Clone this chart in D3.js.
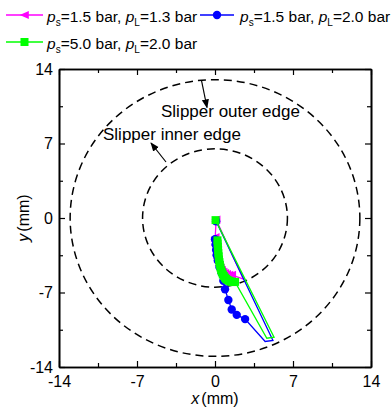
<!DOCTYPE html>
<html><head><meta charset="utf-8">
<script src="https://cdn.jsdelivr.net/npm/d3@7"></script>
<style>
body{margin:0;background:#fff;}
svg{display:block;font-family:Arial,"Liberation Sans",sans-serif;}
</style></head>
<body><svg id="c" width="392" height="408"></svg>
<script>
// ---- data ----
const majorTicks = [-14, -7, 0, 7, 14];
const minorTicks = [-10.5, -3.5, 3.5, 10.5];
const edgeRadii = [13, 6.5];
const edgeLabels = ["Slipper outer edge", "Slipper inner edge"];

// magenta: ps=1.5, pL=1.3 (show: 1 = marker drawn)
const magX = [0.10, 0.02, 0.05, 0.08, 0.12, 0.17, 0.23, 0.30, 0.39, 0.49, 0.60, 0.73, 0.88, 1.05, 1.25, 1.50, 2.55, 0.10];
const magY = [-0.15, -1.8, -2.2, -2.6, -3.0, -3.4, -3.8, -4.15, -4.45, -4.7, -4.9, -5.05, -5.18, -5.27, -5.33, -5.35, -5.75, -0.15];
const magShow = [1,1,1,1,1,1,1,1,1,1,1,1,1,1,1,1,0,0];

// blue: ps=1.5, pL=2.0
const blueX = [0.00, 0.05, 0.10, 0.15, 0.25, 0.40, 0.60, 0.75, 0.90, 1.20, 1.50, 1.95, 2.70, 4.50, 5.20, 0.10];
const blueY = [-2.0, -2.5, -3.0, -3.5, -4.0, -4.6, -5.2, -5.9, -6.7, -7.7, -8.6, -9.1, -9.5, -11.6, -11.5, -0.3];
const blueShow = [1,1,1,1,1,1,1,1,1,1,1,1,1,0,0,1];

// green: ps=5.0, pL=2.0
const greenX = [0.22, 0.24, 0.26, 0.28, 0.30, 0.33, 0.36, 0.40, 0.44, 0.49, 0.55, 0.62, 0.70, 0.79, 0.89, 1.00, 1.12, 1.25, 1.38, 1.52, 1.66, 1.80, 4.65, 5.30, 0.05];
const greenY = [-2.1, -2.4, -2.7, -3.0, -3.3, -3.6, -3.9, -4.15, -4.4, -4.65, -4.9, -5.1, -5.3, -5.45, -5.6, -5.72, -5.82, -5.9, -5.95, -6.0, -6.02, -6.0, -11.3, -11.2, -0.2];
const greenShow = [1,1,1,1,1,1,1,1,1,1,1,1,1,1,1,1,1,1,1,1,1,1,0,0,1];

// ---- chart ----
const svg = d3.select("#c");
const L = 59, R = 371, T = 69, B = 367;
const x = d3.scaleLinear().domain([-14, 14]).range([L, R]);
const y = d3.scaleLinear().domain([-14, 14]).range([B, T]);

// edge circles
svg.append("g").selectAll("ellipse").data(edgeRadii).join("ellipse")
  .attr("cx", x(0)).attr("cy", y(0))
  .attr("rx", d => x(d) - x(0)).attr("ry", d => y(0) - y(d))
  .attr("fill", "none").attr("stroke", "#000").attr("stroke-width", 1.5)
  .attr("stroke-dasharray", "8,5");

// series
const series = [
  {xs: magX, ys: magY, show: magShow, color: "#ff00ff", sym: "tri"},
  {xs: blueX, ys: blueY, show: blueShow, color: "#0000ff", sym: "circle"},
  {xs: greenX, ys: greenY, show: greenShow, color: "#00ff00", sym: "square"}
];
const triPath = s => `M${-s},0L${s*0.9},${-s*0.85}L${s*0.9},${s*0.85}Z`;
function marker(g, sym, color, cx, cy) {
  if (sym === "circle") g.append("circle").attr("cx", cx).attr("cy", cy).attr("r", 4.2).attr("fill", color);
  else if (sym === "square") g.append("rect").attr("x", cx - 4).attr("y", cy - 4).attr("width", 8).attr("height", 8).attr("fill", color);
  else g.append("path").attr("d", triPath(4.8)).attr("transform", `translate(${cx},${cy})`).attr("fill", color);
}
const line = d3.line().x(d => x(d[0])).y(d => y(d[1]));
series.forEach(s => {
  const pts = s.xs.map((v, i) => [v, s.ys[i]]);
  const g = svg.append("g");
  g.append("path").attr("d", line(pts)).attr("fill", "none").attr("stroke", s.color).attr("stroke-width", 1.3);
  pts.forEach((p, i) => { if (s.show[i]) marker(g, s.sym, s.color, x(p[0]), y(p[1])); });
});

// axes
const fs = 16;
const xb = svg.append("g").attr("transform", `translate(0,${B})`)
  .call(d3.axisBottom(x).tickValues(majorTicks).tickSizeInner(-6).tickSizeOuter(0).tickPadding(9).tickFormat(d3.format("d")));
const xbm = svg.append("g").attr("transform", `translate(0,${B})`)
  .call(d3.axisBottom(x).tickValues(minorTicks).tickSizeInner(-4).tickSizeOuter(0).tickFormat(""));
const xt = svg.append("g").attr("transform", `translate(0,${T})`)
  .call(d3.axisTop(x).tickValues(majorTicks).tickSizeInner(-6).tickSizeOuter(0).tickFormat(""));
const xtm = svg.append("g").attr("transform", `translate(0,${T})`)
  .call(d3.axisTop(x).tickValues(minorTicks).tickSizeInner(-4).tickSizeOuter(0).tickFormat(""));
const yl = svg.append("g").attr("transform", `translate(${L},0)`)
  .call(d3.axisLeft(y).tickValues(majorTicks).tickSizeInner(-6).tickSizeOuter(0).tickPadding(6).tickFormat(d3.format("d")));
const ylm = svg.append("g").attr("transform", `translate(${L},0)`)
  .call(d3.axisLeft(y).tickValues(minorTicks).tickSizeInner(-4).tickSizeOuter(0).tickFormat(""));
const yr = svg.append("g").attr("transform", `translate(${R},0)`)
  .call(d3.axisRight(y).tickValues(majorTicks).tickSizeInner(-6).tickSizeOuter(0).tickFormat(""));
const yrm = svg.append("g").attr("transform", `translate(${R},0)`)
  .call(d3.axisRight(y).tickValues(minorTicks).tickSizeInner(-4).tickSizeOuter(0).tickFormat(""));
[xb, xbm, xt, xtm, yl, ylm, yr, yrm].forEach(a => {
  a.selectAll(".domain").attr("stroke", "#000").attr("stroke-width", 1.6);
  a.selectAll(".tick line").attr("stroke", "#000").attr("stroke-width", 1.2);
  a.selectAll("text").attr("font-size", fs).attr("font-family", "Arial, 'Liberation Sans', sans-serif").attr("fill", "#000");
});
[xb, yl].forEach(a => a.selectAll("text").text(d => String(d)));

// axis titles
const xtit = svg.append("text").attr("x", x(0)).attr("y", 404).attr("text-anchor", "middle").attr("font-size", fs);
xtit.append("tspan").attr("font-style", "italic").text("x");
xtit.append("tspan").attr("dx", 2).text("(mm)");
const ytit = svg.append("text").attr("transform", `translate(29,${y(0)}) rotate(-90)`).attr("text-anchor", "middle").attr("font-size", fs);
ytit.append("tspan").attr("font-style", "italic").text("y");
ytit.append("tspan").attr("dx", 2).text("(mm)");

// annotations
svg.append("defs").append("marker").attr("id", "ah").attr("viewBox", "0 0 10 10")
  .attr("refX", 9).attr("refY", 5).attr("markerWidth", 9).attr("markerHeight", 9).attr("orient", "auto")
  .attr("markerUnits", "userSpaceOnUse")
  .append("path").attr("d", "M0,1L10,5L0,9Z").attr("fill", "#000");
svg.append("text").attr("x", 161).attr("y", 117).attr("font-size", 17).text(edgeLabels[0]);
svg.append("text").attr("x", 103).attr("y", 140).attr("font-size", 17).text(edgeLabels[1]);
svg.append("line").attr("x1", 201.5).attr("y1", 80.5).attr("x2", 207).attr("y2", 107.5)
  .attr("stroke", "#000").attr("stroke-width", 1.2).attr("marker-end", "url(#ah)");
svg.append("line").attr("x1", 166).attr("y1", 162).attr("x2", 151).attr("y2", 143)
  .attr("stroke", "#000").attr("stroke-width", 1.2).attr("marker-end", "url(#ah)");

// legend
const legend = [
  {color: "#ff00ff", sym: "tri", x0: 6, x1: 43, cy: 15, tx: 47, ps: "1.5", pl: "1.3"},
  {color: "#0000ff", sym: "circle", x0: 200, x1: 234, cy: 15, tx: 240, ps: "1.5", pl: "2.0"},
  {color: "#00ff00", sym: "square", x0: 6, x1: 43, cy: 42, tx: 47, ps: "5.0", pl: "2.0"}
];
legend.forEach(d => {
  const g = svg.append("g");
  g.append("line").attr("x1", d.x0).attr("x2", d.x1).attr("y1", d.cy).attr("y2", d.cy).attr("stroke", d.color).attr("stroke-width", 1.5);
  marker(g, d.sym, d.color, (d.x0 + d.x1) / 2, d.cy);
  const t = g.append("text").attr("x", d.tx).attr("y", d.cy + 7).attr("font-size", 15.5);
  t.append("tspan").attr("font-style", "italic").text("p");
  t.append("tspan").attr("font-size", 10).attr("dy", 4).text("s");
  t.append("tspan").attr("dy", -4).text(`=${d.ps} bar, `);
  t.append("tspan").attr("font-style", "italic").text("p");
  t.append("tspan").attr("font-size", 10).attr("dy", 4).text("L");
  t.append("tspan").attr("dy", -4).text(`=${d.pl} bar`);
});
</script></body></html>
